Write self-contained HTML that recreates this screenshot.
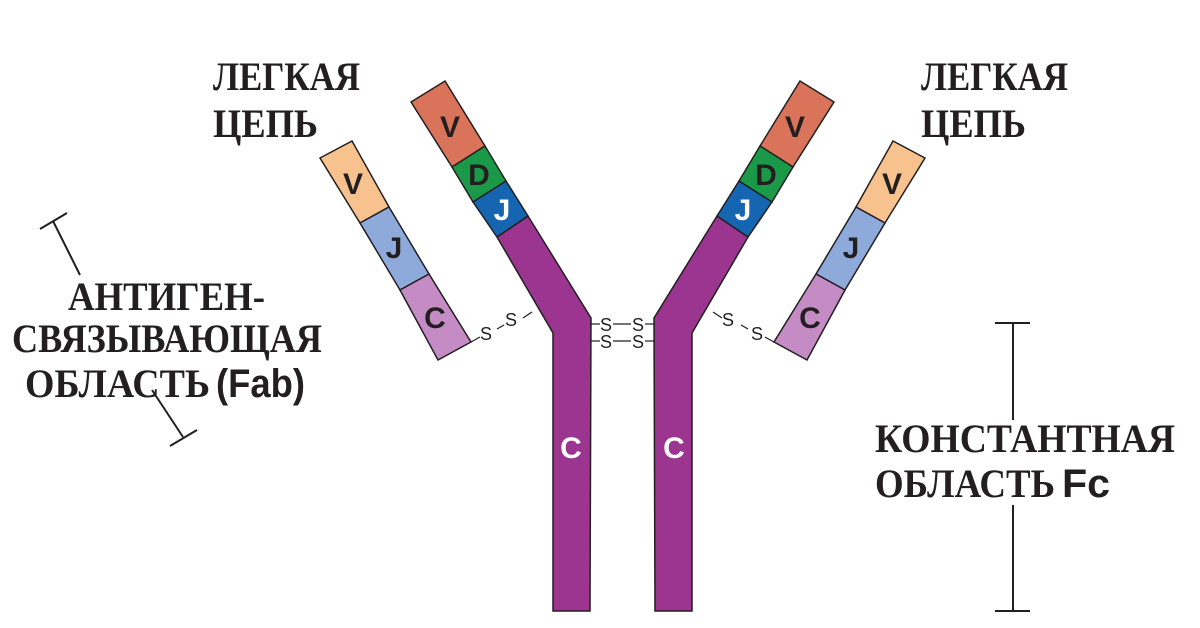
<!DOCTYPE html>
<html><head><meta charset="utf-8"><style>
html,body{margin:0;padding:0;background:#fff;}
svg{display:block;}
.t{font-family:"Liberation Serif","Noto Serif CJK SC",serif;font-size:40px;font-weight:bold;fill:#231f20;}
.s{font-family:"Liberation Sans",sans-serif;font-weight:bold;}
.l{font-family:"Liberation Sans",sans-serif;font-weight:bold;font-size:30px;text-anchor:middle;}
.ss{font-family:"Liberation Sans",sans-serif;font-size:18px;fill:#231f20;}
</style></head><body>
<svg width="1200" height="628" viewBox="0 0 1200 628" xmlns="http://www.w3.org/2000/svg">
<defs>
<g id="half">
  <polygon points="497,237 528,216 591,318 590,611 553,611 553,333" fill="#9c3590" stroke="#231f20" stroke-width="1.5"/>
  <polygon points="411,102 445,81 485,146 452,167" fill="#d9735a" stroke="#231f20" stroke-width="1.5"/>
  <polygon points="452,167 485,146 506,181 473,202" fill="#1a9a48" stroke="#231f20" stroke-width="1.5"/>
  <polygon points="473,202 506,181 528,216 497,237" fill="#1565b0" stroke="#231f20" stroke-width="1.5"/>
  <polygon points="320,158 352,141 389,207 360,223" fill="#f8c28e" stroke="#231f20" stroke-width="1.5"/>
  <polygon points="360,223 389,207 429,274 400,290" fill="#8eaadb" stroke="#231f20" stroke-width="1.5"/>
  <polygon points="400,290 429,274 471,342 438,360" fill="#c48bc4" stroke="#231f20" stroke-width="1.5"/>
  <line x1="471" y1="342" x2="480" y2="337" stroke="#231f20" stroke-width="1.2"/>
  <line x1="497" y1="329" x2="504" y2="325" stroke="#231f20" stroke-width="1.2"/>
  <line x1="523" y1="318" x2="532" y2="312" stroke="#231f20" stroke-width="1.2"/>
  <line x1="590" y1="324" x2="600" y2="324" stroke="#231f20" stroke-width="1.2"/>
  <line x1="590" y1="341" x2="600" y2="341" stroke="#231f20" stroke-width="1.2"/>
</g>
</defs>
<use href="#half"/>
<use href="#half" transform="translate(1245,0) scale(-1,1)"/>
<text class="l" x="450" y="137" fill="#231f20">V</text>
<text class="l" x="479" y="185" fill="#231f20">D</text>
<text class="l" x="502" y="220" fill="#fff">J</text>
<text class="l" x="353" y="194" fill="#231f20">V</text>
<text class="l" x="394" y="258" fill="#231f20">J</text>
<text class="l" x="435" y="328" fill="#231f20">C</text>
<text class="l" x="571" y="458" fill="#fff">C</text>
<text class="l" x="795" y="137" fill="#231f20">V</text>
<text class="l" x="766" y="185" fill="#231f20">D</text>
<text class="l" x="743" y="220" fill="#fff">J</text>
<text class="l" x="892" y="194" fill="#231f20">V</text>
<text class="l" x="851" y="258" fill="#231f20">J</text>
<text class="l" x="810" y="328" fill="#231f20">C</text>
<text class="l" x="674" y="458" fill="#fff">C</text>
<text class="ss" x="480" y="340">S</text>
<text class="ss" x="505" y="326">S</text>
<text class="ss" x="600" y="331">S</text><text class="ss" x="632" y="331">S</text>
<text class="ss" x="600" y="348">S</text><text class="ss" x="632" y="348">S</text>
<line x1="613" y1="324" x2="631" y2="324" stroke="#231f20" stroke-width="1.2"/>
<line x1="613" y1="341" x2="631" y2="341" stroke="#231f20" stroke-width="1.2"/>
<text class="ss" x="722" y="326">S</text>
<text class="ss" x="751" y="340">S</text>
<g stroke="#231f20" stroke-width="2">
  <line x1="53" y1="221" x2="80" y2="275"/>
  <line x1="40" y1="229" x2="67" y2="213"/>
  <line x1="152" y1="390" x2="183" y2="437"/>
  <line x1="170" y1="446" x2="197" y2="430"/>
  <line x1="1013" y1="323" x2="1013" y2="420"/>
  <line x1="1013" y1="505" x2="1013" y2="611"/>
  <line x1="995" y1="323" x2="1030" y2="323"/>
  <line x1="995" y1="611" x2="1030" y2="611"/>
</g>
<text class="t" x="213" y="90" textLength="147" lengthAdjust="spacingAndGlyphs">ЛЕГКАЯ</text>
<text class="t" x="213" y="137" textLength="105" lengthAdjust="spacingAndGlyphs">ЦЕПЬ</text>
<text class="t" x="921" y="90" textLength="147" lengthAdjust="spacingAndGlyphs">ЛЕГКАЯ</text>
<text class="t" x="921" y="137" textLength="105" lengthAdjust="spacingAndGlyphs">ЦЕПЬ</text>
<text class="t" x="68" y="310" textLength="197" lengthAdjust="spacingAndGlyphs">АНТИГЕН-</text>
<text class="t" x="12" y="352" textLength="310" lengthAdjust="spacingAndGlyphs">СВЯЗЫВАЮЩАЯ</text>
<text class="t" x="25" y="397" textLength="185" lengthAdjust="spacingAndGlyphs">ОБЛАСТЬ</text>
<text class="t s" x="216" y="397" textLength="89" lengthAdjust="spacingAndGlyphs" font-size="34">(Fab)</text>
<text class="t" x="875" y="452" textLength="300" lengthAdjust="spacingAndGlyphs">КОНСТАНТНАЯ</text>
<text class="t" x="875" y="497" textLength="180" lengthAdjust="spacingAndGlyphs">ОБЛАСТЬ</text>
<text class="t s" x="1062" y="497" textLength="48" lengthAdjust="spacingAndGlyphs" font-size="34">Fc</text>
</svg>
</body></html>
